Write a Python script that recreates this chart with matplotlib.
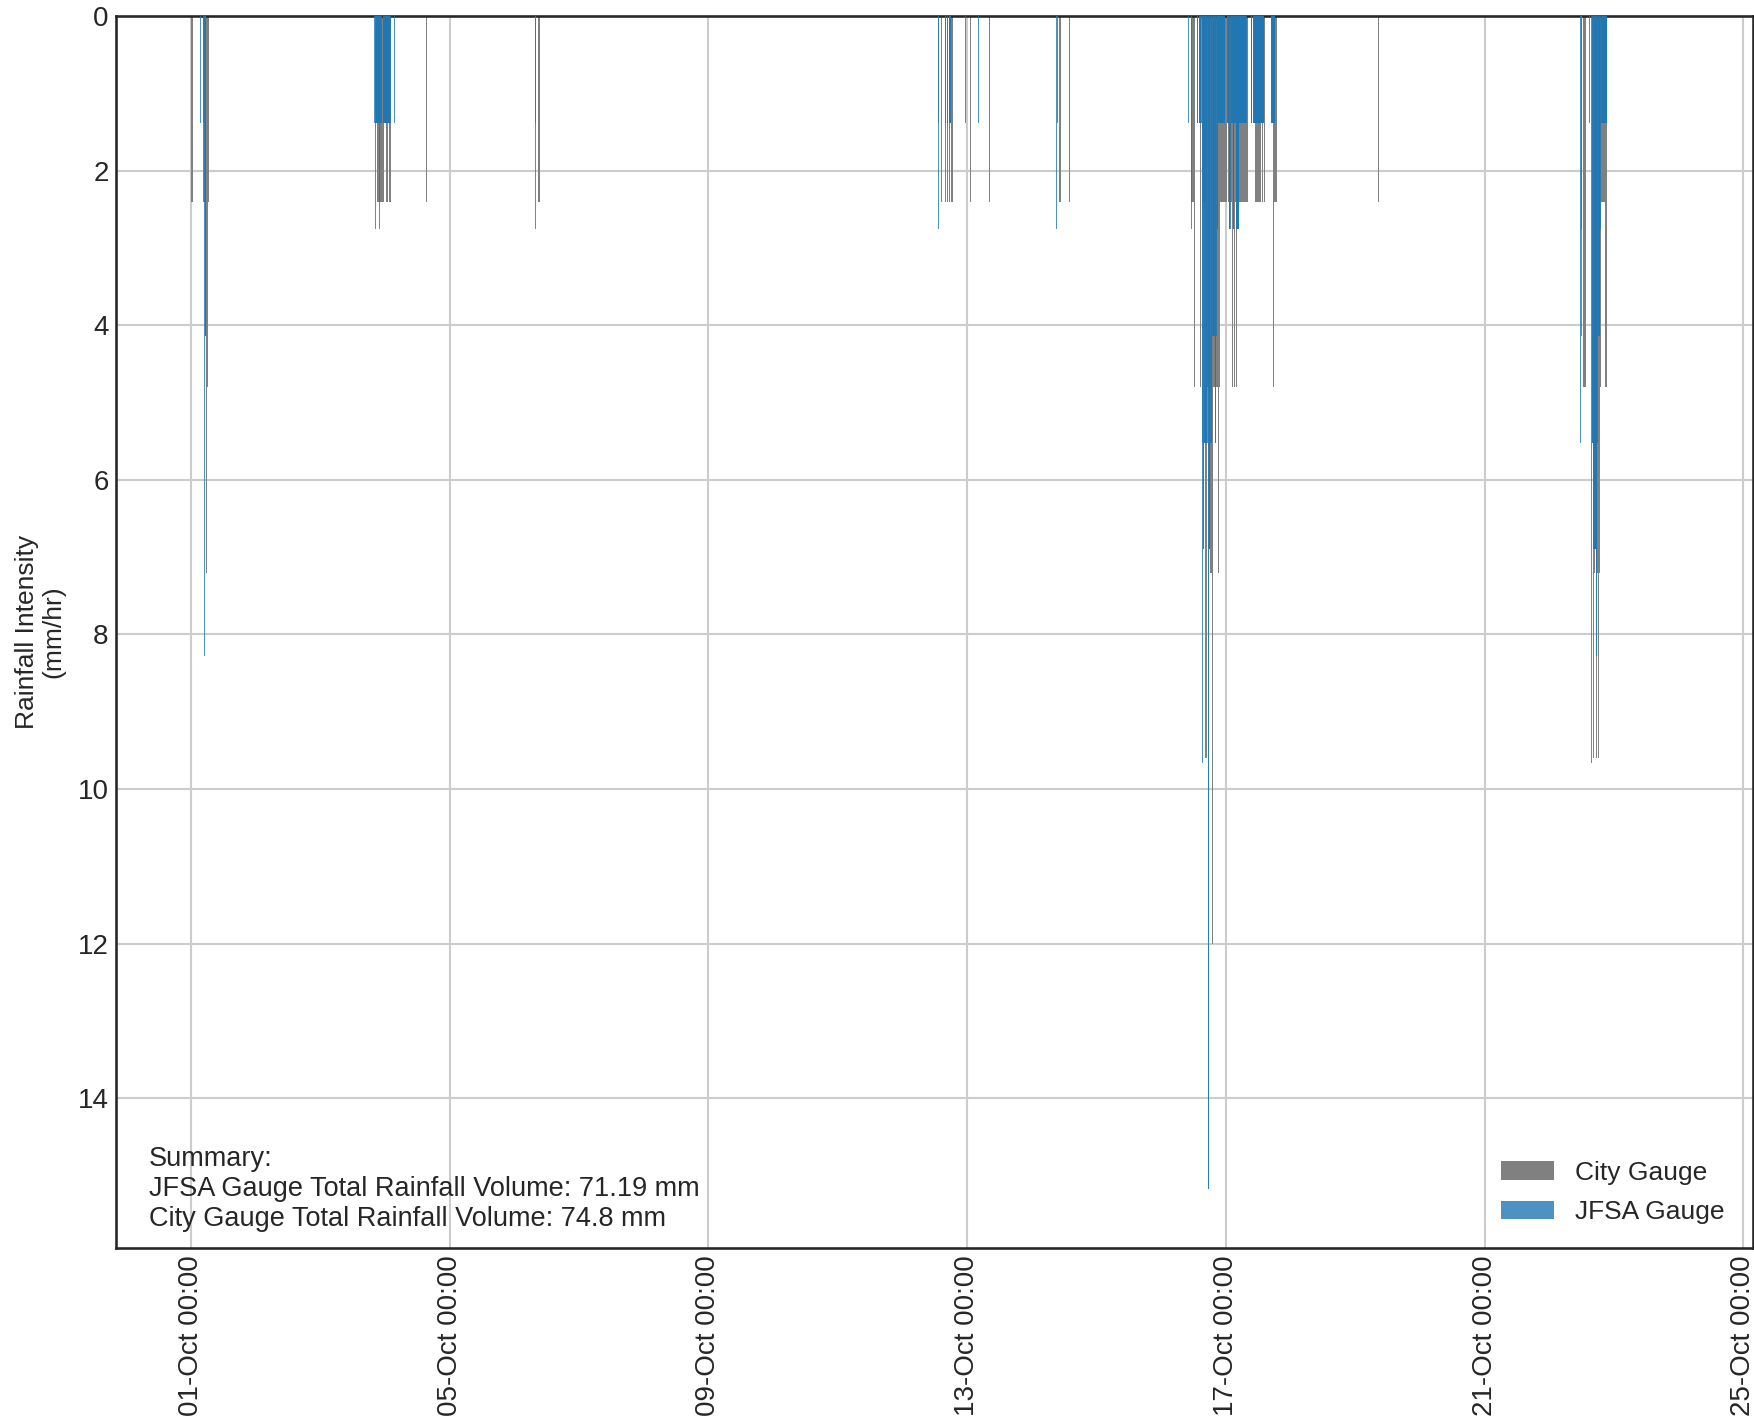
import matplotlib
matplotlib.use("Agg")
import matplotlib.pyplot as plt
import matplotlib.dates as mdates
import numpy as np
import pandas as pd

# ---------------------------------------------------------------------------
# Rainfall intensity runs (start time, duration in minutes, intensity mm/hr)
# ---------------------------------------------------------------------------
jfsa_start = [
    "2021-10-01 03:20", "2021-10-01 04:30", "2021-10-01 04:45", "2021-10-01 05:05",
    "2021-10-03 19:55", "2021-10-03 20:15", "2021-10-03 20:25", "2021-10-03 21:45",
    "2021-10-03 21:55", "2021-10-03 23:05", "2021-10-04 03:20",
    "2021-10-06 07:35", "2021-10-06 07:45",
    "2021-10-12 13:10", "2021-10-12 13:20", "2021-10-12 15:45", "2021-10-12 16:35",
    "2021-10-12 17:20", "2021-10-12 23:20", "2021-10-13 04:10",
    "2021-10-14 09:05", "2021-10-14 09:20",
    "2021-10-16 10:05", "2021-10-16 11:05", "2021-10-16 13:15", "2021-10-16 14:00",
    "2021-10-16 15:00", "2021-10-16 15:10", "2021-10-16 15:30", "2021-10-16 15:55",
    "2021-10-16 17:15", "2021-10-16 17:40", "2021-10-16 18:15", "2021-10-16 19:00",
    "2021-10-16 20:00", "2021-10-16 20:25", "2021-10-16 20:35", "2021-10-16 21:05",
    "2021-10-17 00:30", "2021-10-17 01:05", "2021-10-17 01:45", "2021-10-17 02:40",
    "2021-10-17 03:05", "2021-10-17 03:45", "2021-10-17 04:50",
    "2021-10-17 09:20", "2021-10-17 10:10", "2021-10-17 16:45",
    "2021-10-22 11:25", "2021-10-22 11:40", "2021-10-22 11:50", "2021-10-22 14:45",
    "2021-10-22 15:30", "2021-10-22 15:50", "2021-10-22 16:20", "2021-10-22 17:25",
    "2021-10-22 17:50", "2021-10-22 18:10", "2021-10-22 19:00", "2021-10-22 19:20",
]
jfsa_minutes = [
    20, 15, 20, 30,
    20, 10, 80, 10, 50, 180, 15,
    10, 15,
    10, 15, 20, 20, 40, 20, 20,
    15, 20,
    25, 20, 25, 60,
    10, 20, 25, 80, 25, 35, 45, 60, 25, 10, 30, 155,
    35, 40, 55, 25, 40, 65, 170,
    30, 245, 90,
    15, 10, 20, 15,
    20, 30, 65, 25, 20, 50, 20, 120,
]
jfsa_rate = [
    1.38, 1.38, 8.28, 4.14,
    1.38, 2.76, 1.38, 2.76, 1.38, 1.38, 1.38,
    2.76, 1.38,
    2.76, 1.38, 1.38, 1.38, 1.38, 1.38, 1.38,
    2.76, 1.38,
    1.38, 2.76, 1.38, 1.38,
    5.52, 9.66, 6.9, 5.52, 15.18, 6.9, 5.52, 4.14, 5.52, 4.14, 2.76, 1.38,
    1.38, 2.76, 1.38, 2.76, 1.38, 2.76, 1.38,
    1.38, 1.38, 1.38,
    5.52, 4.14, 2.76, 1.38,
    9.66, 5.52, 6.9, 8.28, 5.52, 4.14, 2.76, 1.38,
]

city_start = [
    "2021-10-01 00:00",
    "2021-10-01 04:25", "2021-10-01 05:25", "2021-10-01 05:35", "2021-10-01 05:50",
    "2021-10-01 06:10",
    "2021-10-03 21:00", "2021-10-04 00:20", "2021-10-04 01:20", "2021-10-04 15:10",
    "2021-10-06 08:40",
    "2021-10-12 14:20", "2021-10-12 15:50", "2021-10-12 16:35", "2021-10-12 17:20",
    "2021-10-12 18:00",
    "2021-10-13 01:05", "2021-10-13 08:10",
    "2021-10-14 09:55", "2021-10-14 13:50",
    "2021-10-16 11:10", "2021-10-16 12:10", "2021-10-16 14:25",
    "2021-10-16 15:00", "2021-10-16 16:05", "2021-10-16 16:50", "2021-10-16 17:10",
    "2021-10-16 18:10", "2021-10-16 18:50", "2021-10-16 19:05", "2021-10-16 21:00",
    "2021-10-16 21:20", "2021-10-16 21:50",
    "2021-10-17 00:40", "2021-10-17 02:15", "2021-10-17 02:30", "2021-10-17 03:10",
    "2021-10-17 03:25", "2021-10-17 03:55", "2021-10-17 04:10",
    "2021-10-17 10:50", "2021-10-17 13:35", "2021-10-17 14:20", "2021-10-17 15:05",
    "2021-10-17 17:30", "2021-10-17 17:45",
    "2021-10-19 08:25",
    "2021-10-22 12:30", "2021-10-22 16:20", "2021-10-22 16:35", "2021-10-22 16:55",
    "2021-10-22 17:25", "2021-10-22 17:40", "2021-10-22 17:50", "2021-10-22 18:10",
    "2021-10-22 18:25", "2021-10-22 18:35", "2021-10-22 19:15", "2021-10-22 20:50",
]
city_minutes = [
    45,
    60, 10, 15, 20, 30,
    155, 45, 45, 20,
    45,
    20, 20, 20, 20, 40,
    20, 20,
    45, 20,
    60, 20, 20,
    65, 45, 20, 60, 40, 15, 115, 20, 30, 150,
    95, 15, 40, 15, 30, 15, 235,
    135, 15, 15, 15, 15, 75,
    20,
    70, 15, 20, 30, 15, 10, 20, 15, 10, 40, 80, 30,
]
city_rate = [
    2.4,
    2.4, 4.8, 7.2, 4.8, 2.4,
    2.4, 2.4, 2.4, 2.4,
    2.4,
    2.4, 2.4, 2.4, 2.4, 2.4,
    2.4, 2.4,
    2.4, 2.4,
    2.4, 4.8, 4.8,
    2.4, 9.6, 7.2, 4.8, 7.2, 12.0, 4.8, 7.2, 4.8, 2.4,
    2.4, 4.8, 2.4, 4.8, 2.4, 4.8, 2.4,
    2.4, 2.4, 2.4, 2.4, 4.8, 2.4,
    2.4,
    4.8, 9.6, 7.2, 4.8, 9.6, 4.8, 7.2, 9.6, 7.2, 4.8, 2.4, 4.8,
]

jfsa_total_mm = 71.19
city_total_mm = 74.8

x_start = "2021-09-29 20:10"
x_end = "2021-10-25 03:36"
tick_days = [1, 5, 9, 13, 17, 21, 25]

STEP_MIN = 5      # logging interval
BAR_MIN = 20      # drawn width of each logged interval


def expand(starts, minutes, rates):
    """Turn runs into individual logged intervals."""
    times, values = [], []
    for s, m, r in zip(starts, minutes, rates):
        t0 = pd.Timestamp(s)
        n = max(1, (m - BAR_MIN) // STEP_MIN + 1)
        for k in range(n):
            times.append((t0 + pd.Timedelta(minutes=STEP_MIN * k)).to_pydatetime())
            values.append(r)
    return mdates.date2num(times), np.array(values)


text_color = "#262626"
plt.rcParams.update({
    "font.family": ["Liberation Sans", "DejaVu Sans"],
    "text.color": text_color,
    "axes.labelcolor": text_color,
    "xtick.color": text_color,
    "ytick.color": text_color,
    "axes.edgecolor": text_color,
    "axes.linewidth": 1.875,
    "xtick.major.size": 0,
    "ytick.major.size": 0,
    "xtick.major.pad": 5.25,
    "ytick.major.pad": 5.25,
    "xtick.labelsize": 20,
    "ytick.labelsize": 20,
})

fig = plt.figure(figsize=(17.54, 14.16), dpi=100)
ax = fig.add_axes([116 / 1754, 1 - 1248 / 1416, (1753 - 116) / 1754, (1248 - 16) / 1416])
ax.set_axisbelow(True)
ax.grid(True, color="#cccccc", linewidth=1.5)

cx, cv = expand(city_start, city_minutes, city_rate)
jx, jv = expand(jfsa_start, jfsa_minutes, jfsa_rate)

width = BAR_MIN / 1440.0
city_bars = ax.bar(cx, cv, width=width, align="edge", color="grey",
                   linewidth=0, label="City Gauge", zorder=2)
jfsa_bars = ax.bar(jx, jv, width=width, align="edge", color="#1f77b4", alpha=0.8,
                   linewidth=0, label="JFSA Gauge", zorder=3)

ax.invert_yaxis()
ax.set_xlim(mdates.date2num(pd.Timestamp(x_start).to_pydatetime()),
            mdates.date2num(pd.Timestamp(x_end).to_pydatetime()))
ax.xaxis.set_major_locator(mdates.DayLocator(bymonthday=tick_days))
ax.xaxis.set_major_formatter(mdates.DateFormatter("%d-%b %H:%M"))
plt.setp(ax.get_xticklabels(), rotation=90)

ax.set_ylabel("Rainfall Intensity\n(mm/hr)", fontsize=19, labelpad=9, linespacing=1.1)

ax.text(0.02, 0.0127,
        "Summary:\n"
        f"JFSA Gauge Total Rainfall Volume: {jfsa_total_mm} mm\n"
        f"City Gauge Total Rainfall Volume: {city_total_mm} mm",
        transform=ax.transAxes, ha="left", va="bottom", fontsize=19.5, linespacing=1.22)

ax.legend(handles=[city_bars, jfsa_bars], loc="lower right", frameon=False,
          fontsize=19, labelspacing=0.58, bbox_to_anchor=(0.997, 0.0))

fig.savefig("out.png", dpi=100)
